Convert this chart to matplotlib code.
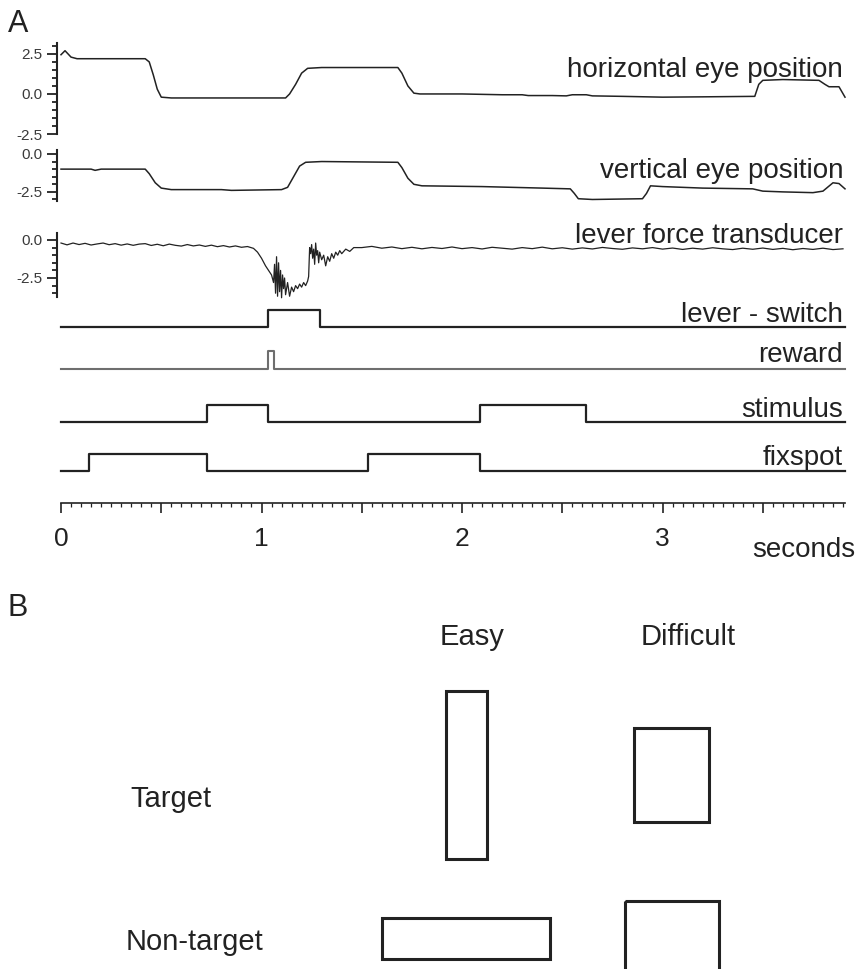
import numpy as np
import matplotlib
matplotlib.use("Agg")
import matplotlib.pyplot as plt
from matplotlib.ticker import MultipleLocator
from matplotlib.patches import Rectangle

plt.rcParams['font.family'] = ['Liberation Sans', 'DejaVu Sans']

# ---- panel A data (time in seconds) ----
horiz_t = [0.00, 0.02, 0.05, 0.08, 0.42, 0.44, 0.46, 0.48, 0.50, 0.55, 0.70, 0.90,
           1.12, 1.14, 1.17, 1.20, 1.23, 1.30, 1.50, 1.68, 1.70, 1.73, 1.76, 1.79,
           2.00, 2.20, 2.30, 2.33, 2.45, 2.52, 2.55, 2.62, 2.65, 2.80, 3.00, 3.20,
           3.46, 3.48, 3.50, 3.60, 3.78, 3.81, 3.83, 3.88, 3.91]
horiz_v = [2.45, 2.7, 2.3, 2.2, 2.2, 2.0, 1.2, 0.3, -0.2, -0.25, -0.25, -0.25,
           -0.25, 0.0, 0.6, 1.3, 1.6, 1.65, 1.65, 1.65, 1.3, 0.5, 0.05, 0.0,
           0.0, -0.05, -0.05, -0.1, -0.1, -0.12, -0.05, -0.05, -0.12, -0.15, -0.2, -0.18,
           -0.15, 0.6, 0.85, 0.9, 0.85, 0.6, 0.45, 0.45, -0.2]

vert_t = [0.00, 0.15, 0.17, 0.20, 0.42, 0.44, 0.47, 0.50, 0.55, 0.80, 0.85, 1.10,
          1.13, 1.16, 1.19, 1.22, 1.30, 1.68, 1.70, 1.73, 1.76, 1.80, 2.10, 2.40,
          2.54, 2.56, 2.58, 2.65, 2.90, 2.92, 2.94, 3.00, 3.20, 3.45, 3.50, 3.60,
          3.75, 3.80, 3.85, 3.88, 3.91]
vert_v = [-1.0, -1.0, -1.08, -1.0, -1.0, -1.3, -1.9, -2.25, -2.35, -2.35, -2.4, -2.35,
          -2.2, -1.5, -0.8, -0.55, -0.5, -0.55, -0.9, -1.6, -2.0, -2.1, -2.15, -2.25,
          -2.3, -2.6, -2.95, -3.0, -2.95, -2.6, -2.1, -2.15, -2.25, -2.3, -2.45, -2.5,
          -2.55, -2.45, -1.9, -1.95, -2.3]

force_t = [0.00, 0.03, 0.06, 0.09, 0.12, 0.15, 0.18, 0.21, 0.24, 0.27, 0.30, 0.33,
           0.36, 0.39, 0.42, 0.45, 0.48, 0.51, 0.54, 0.57, 0.60, 0.63, 0.66, 0.69,
           0.72, 0.75, 0.78, 0.81, 0.84, 0.87, 0.90, 0.93, 0.96,
           0.98, 1.00, 1.02, 1.04, 1.05, 1.06, 1.065, 1.07, 1.075, 1.08, 1.085, 1.09,
           1.095, 1.10, 1.105, 1.11, 1.115, 1.12, 1.13, 1.14, 1.15, 1.16, 1.17, 1.18,
           1.19, 1.20, 1.21, 1.22, 1.23, 1.235, 1.24, 1.245, 1.25, 1.255, 1.26, 1.265,
           1.27, 1.275, 1.28, 1.285, 1.29, 1.30, 1.31, 1.32, 1.33, 1.34, 1.35, 1.36,
           1.37, 1.38, 1.39, 1.40, 1.42, 1.44, 1.46,
           1.50, 1.55, 1.60, 1.65, 1.70, 1.75, 1.80, 1.85, 1.90, 1.95,
           2.00, 2.05, 2.10, 2.15, 2.20, 2.25, 2.30, 2.35, 2.40, 2.45,
           2.50, 2.55, 2.60, 2.65, 2.70, 2.75, 2.80, 2.85, 2.90, 2.95,
           3.00, 3.05, 3.10, 3.15, 3.20, 3.25, 3.30, 3.35, 3.40, 3.45,
           3.50, 3.55, 3.60, 3.65, 3.70, 3.75, 3.80, 3.85, 3.90]
force_v = [-0.20, -0.32, -0.20, -0.30, -0.22, -0.33, -0.26, -0.20, -0.31, -0.24, -0.34, -0.26,
           -0.35, -0.27, -0.24, -0.36, -0.28, -0.38, -0.27, -0.35, -0.40, -0.30, -0.39, -0.33,
           -0.42, -0.34, -0.44, -0.37, -0.46, -0.39, -0.48, -0.43, -0.55,
           -0.8, -1.2, -1.7, -2.1, -2.3, -2.8, -1.6, -3.5, -1.1, -3.7, -1.5, -3.4,
           -2.0, -3.8, -2.3, -3.2, -2.5, -3.6, -2.8, -3.7, -3.1, -3.4, -3.0, -3.2,
           -2.9, -3.1, -2.8, -3.0, -2.7, -2.4, -0.5, -0.9, -0.3, -1.2, -0.6, -1.6,
           -0.2, -1.0, -0.7, -1.5, -0.8, -1.3, -1.0, -1.7, -1.1, -1.4, -0.9, -1.2,
           -0.8, -1.0, -0.7, -0.9, -0.6, -0.75, -0.5,
           -0.50, -0.42, -0.54, -0.46, -0.57, -0.48, -0.58, -0.49, -0.56, -0.46,
           -0.57, -0.50, -0.59, -0.48, -0.54, -0.60, -0.50, -0.57, -0.47, -0.58,
           -0.51, -0.60, -0.52, -0.59, -0.49, -0.56, -0.61, -0.52, -0.58, -0.50,
           -0.60, -0.53, -0.62, -0.54, -0.60, -0.51, -0.58, -0.63, -0.54, -0.61,
           -0.53, -0.62, -0.55, -0.64, -0.56, -0.62, -0.54, -0.63, -0.58]

# digital channels: times where the state toggles (starts low)
lever_edges = [1.03, 1.29]
reward_edges = [1.03, 1.06]
stim_edges = [0.73, 1.03, 2.09, 2.62]
fix_edges = [0.14, 0.73, 1.53, 2.09]
t_end = 3.91

# ---- panel B data ----
conditions = ['Easy', 'Difficult']
trial_types = ['Target', 'Non-target']
bar_w = [41, 75]     # stimulus width for target (non-target is rotated)
bar_h = [168, 94]

W, H = 859, 969
fig = plt.figure(figsize=(W / 100, H / 100), dpi=100)
ink = '#222222'


def px_axes(x0, y0, x1, y1):
    return fig.add_axes([x0 / W, 1 - y1 / H, (x1 - x0) / W, (y1 - y0) / H])


def ftext(x, y, s, **kw):
    fig.text(x / W, 1 - y / H, s, color=ink, **kw)


XLIM = (-0.02, 3.91)


def analog(y0, y1, ylim, t, v, majors, lw=1.1):
    ax = px_axes(57, y0, 845, y1)
    ax.set_xlim(*XLIM)
    ax.set_ylim(*ylim)
    ax.patch.set_alpha(0)
    for s in ['top', 'right', 'bottom']:
        ax.spines[s].set_visible(False)
    ax.spines['left'].set_linewidth(1.5)
    ax.spines['left'].set_color(ink)
    ax.set_xticks([])
    ax.set_yticks(majors, labels=[f'{m:.1f}' for m in majors])
    ax.yaxis.set_minor_locator(MultipleLocator(0.5))
    ax.tick_params(axis='y', which='major', direction='out', length=7.5, width=1.3,
                   color=ink, labelsize=11, labelcolor='#3a3a3a', pad=3)
    ax.tick_params(axis='y', which='minor', direction='out', length=3.8, width=1.3, color=ink)
    ax.plot(t, v, color=ink, lw=lw, clip_on=False)
    return ax


analog(42.7, 134, (-2.5, 3.2), horiz_t, horiz_v, [-2.5, 0.0, 2.5])
analog(150, 201, (-3.1, 0.26), vert_t, vert_v, [-2.5, 0.0])
analog(233, 297, (-3.75, 0.46), force_t, force_v, [-2.5, 0.0], lw=0.9)


def digital(y_base, edges, color=ink, lw=1.6):
    ax = px_axes(57, y_base - 17.5, 845, y_base)
    ax.set_xlim(*XLIM)
    ax.set_ylim(0, 1)
    ax.axis('off')
    t = [0] + list(edges) + [t_end]
    v = [i % 2 for i in range(len(edges) + 1)] + [0]
    ax.step(t, v, where='post', color=color, lw=lw, clip_on=False)


digital(327, lever_edges)
digital(369, reward_edges, color='#6e6e6e', lw=1.5)
digital(422, stim_edges)
digital(471, fix_edges)

# time axis
axt = px_axes(57, 480, 845, 503)
axt.set_xlim(*XLIM)
axt.patch.set_alpha(0)
for s in ['top', 'right', 'left']:
    axt.spines[s].set_visible(False)
axt.spines['bottom'].set_bounds(0, t_end)
axt.spines['bottom'].set_linewidth(1.2)
axt.spines['bottom'].set_color(ink)
axt.set_yticks([])
majors = [0, 0.5, 1, 1.5, 2, 2.5, 3, 3.5]
axt.set_xticks(majors, labels=[str(int(m)) if m == int(m) else '' for m in majors])
axt.xaxis.set_minor_locator(MultipleLocator(0.05))
axt.tick_params(axis='x', which='major', direction='out', length=7.5, width=1.2,
                color=ink, labelsize=19, labelcolor=ink, pad=9.5)
axt.tick_params(axis='x', which='minor', direction='out', length=3, width=0.9, color=ink)

# trace labels
lab = dict(fontsize=20, ha='right', va='baseline')
ftext(843, 77, 'horizontal eye position', **lab)
ftext(843, 178, 'vertical eye position', **lab)
ftext(843, 243, 'lever force transducer', **lab)
ftext(843, 322, 'lever - switch', **lab)
ftext(843, 362, 'reward', **lab)
ftext(843, 417, 'stimulus', **lab)
ftext(843, 465, 'fixspot', **lab)
ftext(855, 557, 'seconds', **lab)

ftext(8, 32, 'A', fontsize=22, va='baseline')
ftext(8, 616, 'B', fontsize=22, va='baseline')

# ---- panel B ----
axb = px_axes(0, 560, W, H)
axb.set_xlim(0, W)
axb.set_ylim(H, 560)
axb.axis('off')
col_x = [466, 671.5]
row_y = [774.5, 938]
for c, name in enumerate(conditions):
    for r, kind in enumerate(trial_types):
        w, h = (bar_w[c], bar_h[c]) if r == 0 else (bar_h[c], bar_w[c])
        axb.add_patch(Rectangle((col_x[c] - w / 2, row_y[r] - h / 2), w, h,
                                fill=False, ec=ink, lw=2.2, clip_on=True))
ftext(472, 645, conditions[0], fontsize=21, ha='center', va='baseline')
ftext(688, 645, conditions[1], fontsize=21, ha='center', va='baseline')
ftext(130, 807, trial_types[0], fontsize=21, ha='left', va='baseline')
ftext(126, 950, trial_types[1], fontsize=21, ha='left', va='baseline')

fig.savefig('out.png', dpi=100)
